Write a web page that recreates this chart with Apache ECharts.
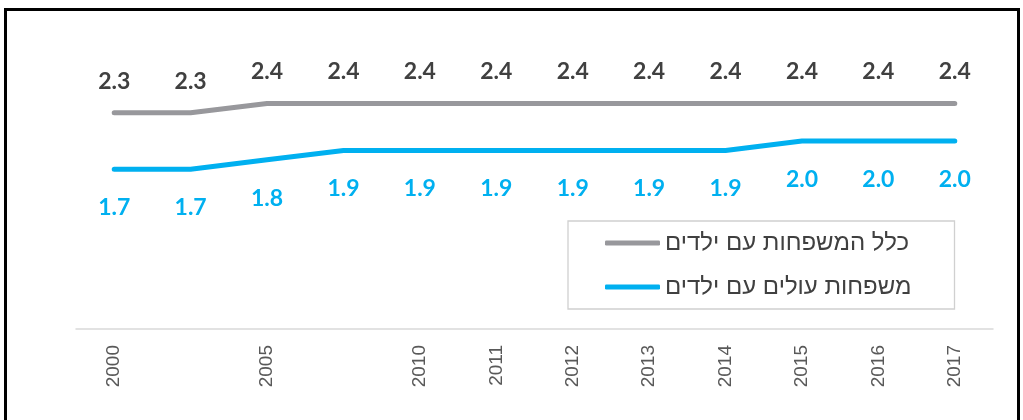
<!DOCTYPE html>
<html>
<head>
<meta charset="utf-8">
<script src="https://cdn.jsdelivr.net/npm/echarts@6/dist/echarts.min.js"></script>
<style>
html,body{margin:0;padding:0;background:#fff;}
#chart{width:1023px;height:420px;}
</style>
</head>
<body>
<div id="chart"></div>
<script>
const categories = ['2000', ' ', '2005', '  ', '2010', '2011', '2012', '2013', '2014', '2015', '2016', '2017'];
const allFamilies = [2.3, 2.3, 2.4, 2.4, 2.4, 2.4, 2.4, 2.4, 2.4, 2.4, 2.4, 2.4];
const immigrantFamilies = [1.7, 1.7, 1.8, 1.9, 1.9, 1.9, 1.9, 1.9, 1.9, 2.0, 2.0, 2.0];
const seriesNames = ['כלל המשפחות עם ילדים', 'משפחות עולים עם ילדים'];

const chart = echarts.init(document.getElementById('chart'));
const labelFont = {fontFamily: 'Lato', fontWeight: 'bold', fontSize: 23};
chart.setOption({
  animation: false,
  graphic: [{
    type: 'rect', silent: true,
    shape: {x: 5.5, y: 9.5, width: 1013, height: 500},
    style: {fill: 'none', stroke: '#000', lineWidth: 3}
  }],
  grid: {left: 76, right: 30, top: 47, bottom: 91},
  legend: {
    orient: 'vertical',
    left: 568, top: 221,
    padding: [10, 43, 10, 37],
    itemGap: 20,
    itemWidth: 55, itemHeight: 5,
    borderColor: '#d0d0d0', borderWidth: 1.3,
    icon: 'roundRect',
    textStyle: {fontFamily: 'Liberation Sans', fontSize: 24, color: '#404040'},
    data: seriesNames
  },
  xAxis: {
    type: 'category',
    data: categories,
    boundaryGap: true,
    axisLine: {lineStyle: {color: '#d9d9d9', width: 1.5}},
    axisTick: {show: false},
    axisLabel: {rotate: 90, interval: 0, margin: 16, color: '#595959', fontFamily: 'Liberation Sans', fontSize: 19}
  },
  yAxis: {type: 'value', min: 0, max: 3, show: false, splitLine: {show: false}},
  series: [{
    name: seriesNames[0], type: 'line', data: allFamilies,
    symbol: 'circle', symbolSize: 0.01, showSymbol: true, color: '#98989c',
    lineStyle: {width: 5, cap: 'round', join: 'round'},
    label: Object.assign({show: true, position: 'top', distance: 20, color: '#404040', formatter: p => p.value.toFixed(1)}, labelFont)
  }, {
    name: seriesNames[1], type: 'line', data: immigrantFamilies,
    symbol: 'circle', symbolSize: 0.01, showSymbol: true, color: '#00b0f0',
    lineStyle: {width: 5, cap: 'round', join: 'round'},
    label: Object.assign({show: true, position: 'bottom', distance: 27, color: '#00b0f0', formatter: p => p.value.toFixed(1)}, labelFont)
  }]
});
</script>
</body>
</html>
